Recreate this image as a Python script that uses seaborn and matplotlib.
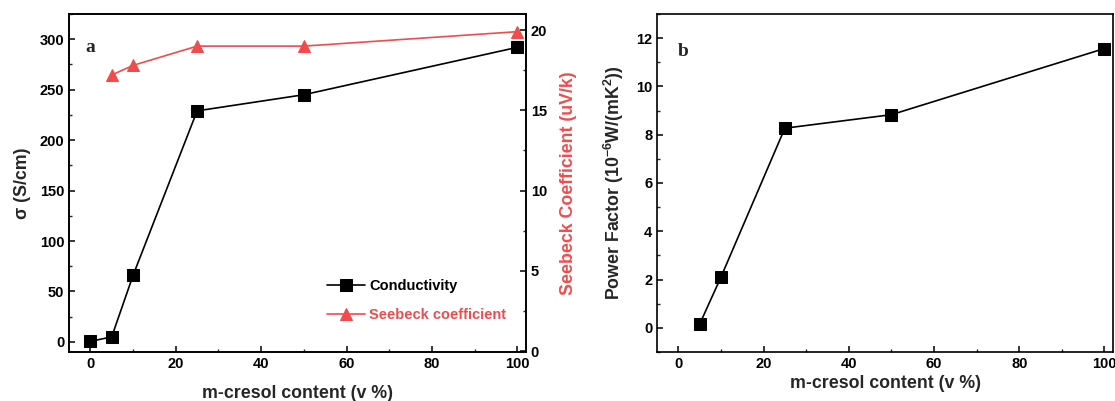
import numpy as np
import pandas as pd
import matplotlib
matplotlib.use("Agg")
import matplotlib.pyplot as plt
from matplotlib.ticker import MultipleLocator
import seaborn as sns

# ---- data ----
content_cond = [0, 5, 10, 25, 50, 100]
conductivity = [0.5, 5, 66, 229, 245, 292]
content_seebeck = [5, 10, 25, 50, 100]
seebeck = [17.2, 17.8, 19.0, 19.0, 19.9]
content_pf = [5, 10, 25, 50, 100]
power_factor = [0.15, 2.1, 8.27, 8.83, 11.57]

RED = "#F04C4C"

sns.set_style("ticks")
plt.rcParams["font.family"] = ["Liberation Sans", "DejaVu Sans"]
plt.rcParams["font.weight"] = "bold"
plt.rcParams["axes.labelweight"] = "bold"
plt.rcParams["mathtext.fontset"] = "custom"
plt.rcParams["mathtext.rm"] = "Liberation Sans:bold"
plt.rcParams["mathtext.bf"] = "Liberation Sans:bold"
plt.rcParams["mathtext.it"] = "Liberation Sans:bold"
plt.rcParams["mathtext.default"] = "bf"

TICK = 10.5
LAB = 12.8

fig = plt.figure(figsize=(11.15, 4.01), dpi=100)
ax = fig.add_axes([69/1115, 49/401, 457/1115, 338/401])
axb = fig.add_axes([657/1115, 49/401, 456/1115, 338/401])

df_c = pd.DataFrame({"x": content_cond, "y": conductivity})
df_s = pd.DataFrame({"x": content_seebeck, "y": seebeck})
df_p = pd.DataFrame({"x": content_pf, "y": power_factor})

# panel a
sns.lineplot(data=df_c, x="x", y="y", ax=ax, color="black", marker="s",
             markersize=8, markeredgecolor="black", linewidth=1.2,
             label="Conductivity", legend=False)
ax2 = ax.twinx()
sns.lineplot(data=df_s, x="x", y="y", ax=ax2, color=RED, marker="^",
             markersize=9, markeredgecolor=RED, linewidth=1.2,
             label="Seebeck coefficient", legend=False)

ax.set_xlim(-5, 102)
ax.set_ylim(-10, 325)
ax2.set_ylim(-0.05, 21)
ax.xaxis.set_major_locator(MultipleLocator(20))
ax.xaxis.set_minor_locator(MultipleLocator(10))
ax.yaxis.set_major_locator(MultipleLocator(50))
ax.yaxis.set_minor_locator(MultipleLocator(25))
ax2.yaxis.set_major_locator(MultipleLocator(5))
ax2.yaxis.set_minor_locator(MultipleLocator(2.5))

ax.set_xlabel("m-cresol content (v %)", fontsize=LAB, fontweight="bold", labelpad=10)
ax.set_ylabel("σ (S/cm)", fontsize=LAB, fontweight="bold", labelpad=6)
ax2.set_ylabel("Seebeck Coefficient (uV/k)", fontsize=LAB, fontweight="bold",
               color=RED, labelpad=9)

ax.text(0.036, 0.9, "a", transform=ax.transAxes, fontsize=14, fontweight="bold",
        family=["Liberation Serif", "DejaVu Serif"], va="center", ha="left")

h1, l1 = ax.get_legend_handles_labels()
h2, l2 = ax2.get_legend_handles_labels()
leg = ax2.legend(h1 + h2, l1 + l2, loc="lower right", bbox_to_anchor=(0.985, 0.05),
                 frameon=False, handlelength=2.6, handletextpad=0.25,
                 labelspacing=1.0, prop={"weight": "bold", "size": 10.5})
for t, c in zip(leg.get_texts(), ["black", RED]):
    t.set_color(c)

# panel b
sns.lineplot(data=df_p, x="x", y="y", ax=axb, color="black", marker="s",
             markersize=8, markeredgecolor="black", linewidth=1.2, legend=False)
axb.set_xlim(-5, 102)
axb.set_ylim(-1, 13)
axb.xaxis.set_major_locator(MultipleLocator(20))
axb.xaxis.set_minor_locator(MultipleLocator(10))
axb.yaxis.set_major_locator(MultipleLocator(2))
axb.yaxis.set_minor_locator(MultipleLocator(1))
axb.set_xlabel("m-cresol content (v %)", fontsize=LAB, fontweight="bold", labelpad=3)
axb.set_ylabel("Power Factor (10$^{-6}$W/(mK$^{2}$))", fontsize=LAB,
               fontweight="bold", labelpad=7)
axb.text(0.045, 0.89, "b", transform=axb.transAxes, fontsize=14, fontweight="bold",
         family=["Liberation Serif", "DejaVu Serif"], va="center", ha="left")

for a in (ax, ax2, axb):
    for s in a.spines.values():
        s.set_visible(True)
        s.set_linewidth(1.2)
        s.set_color("black")
    a.tick_params(which="major", direction="in", length=4, width=1.1,
                  labelsize=TICK, colors="black")
    a.tick_params(which="minor", direction="in", length=2.5, width=1.0)
    for lab in a.get_xticklabels() + a.get_yticklabels():
        lab.set_fontweight("bold")

ax.tick_params(axis="y", which="both", right=False)
ax.tick_params(axis="x", which="both", top=False)
axb.tick_params(which="both", top=False, right=False)

fig.savefig("out.png", dpi=100)
